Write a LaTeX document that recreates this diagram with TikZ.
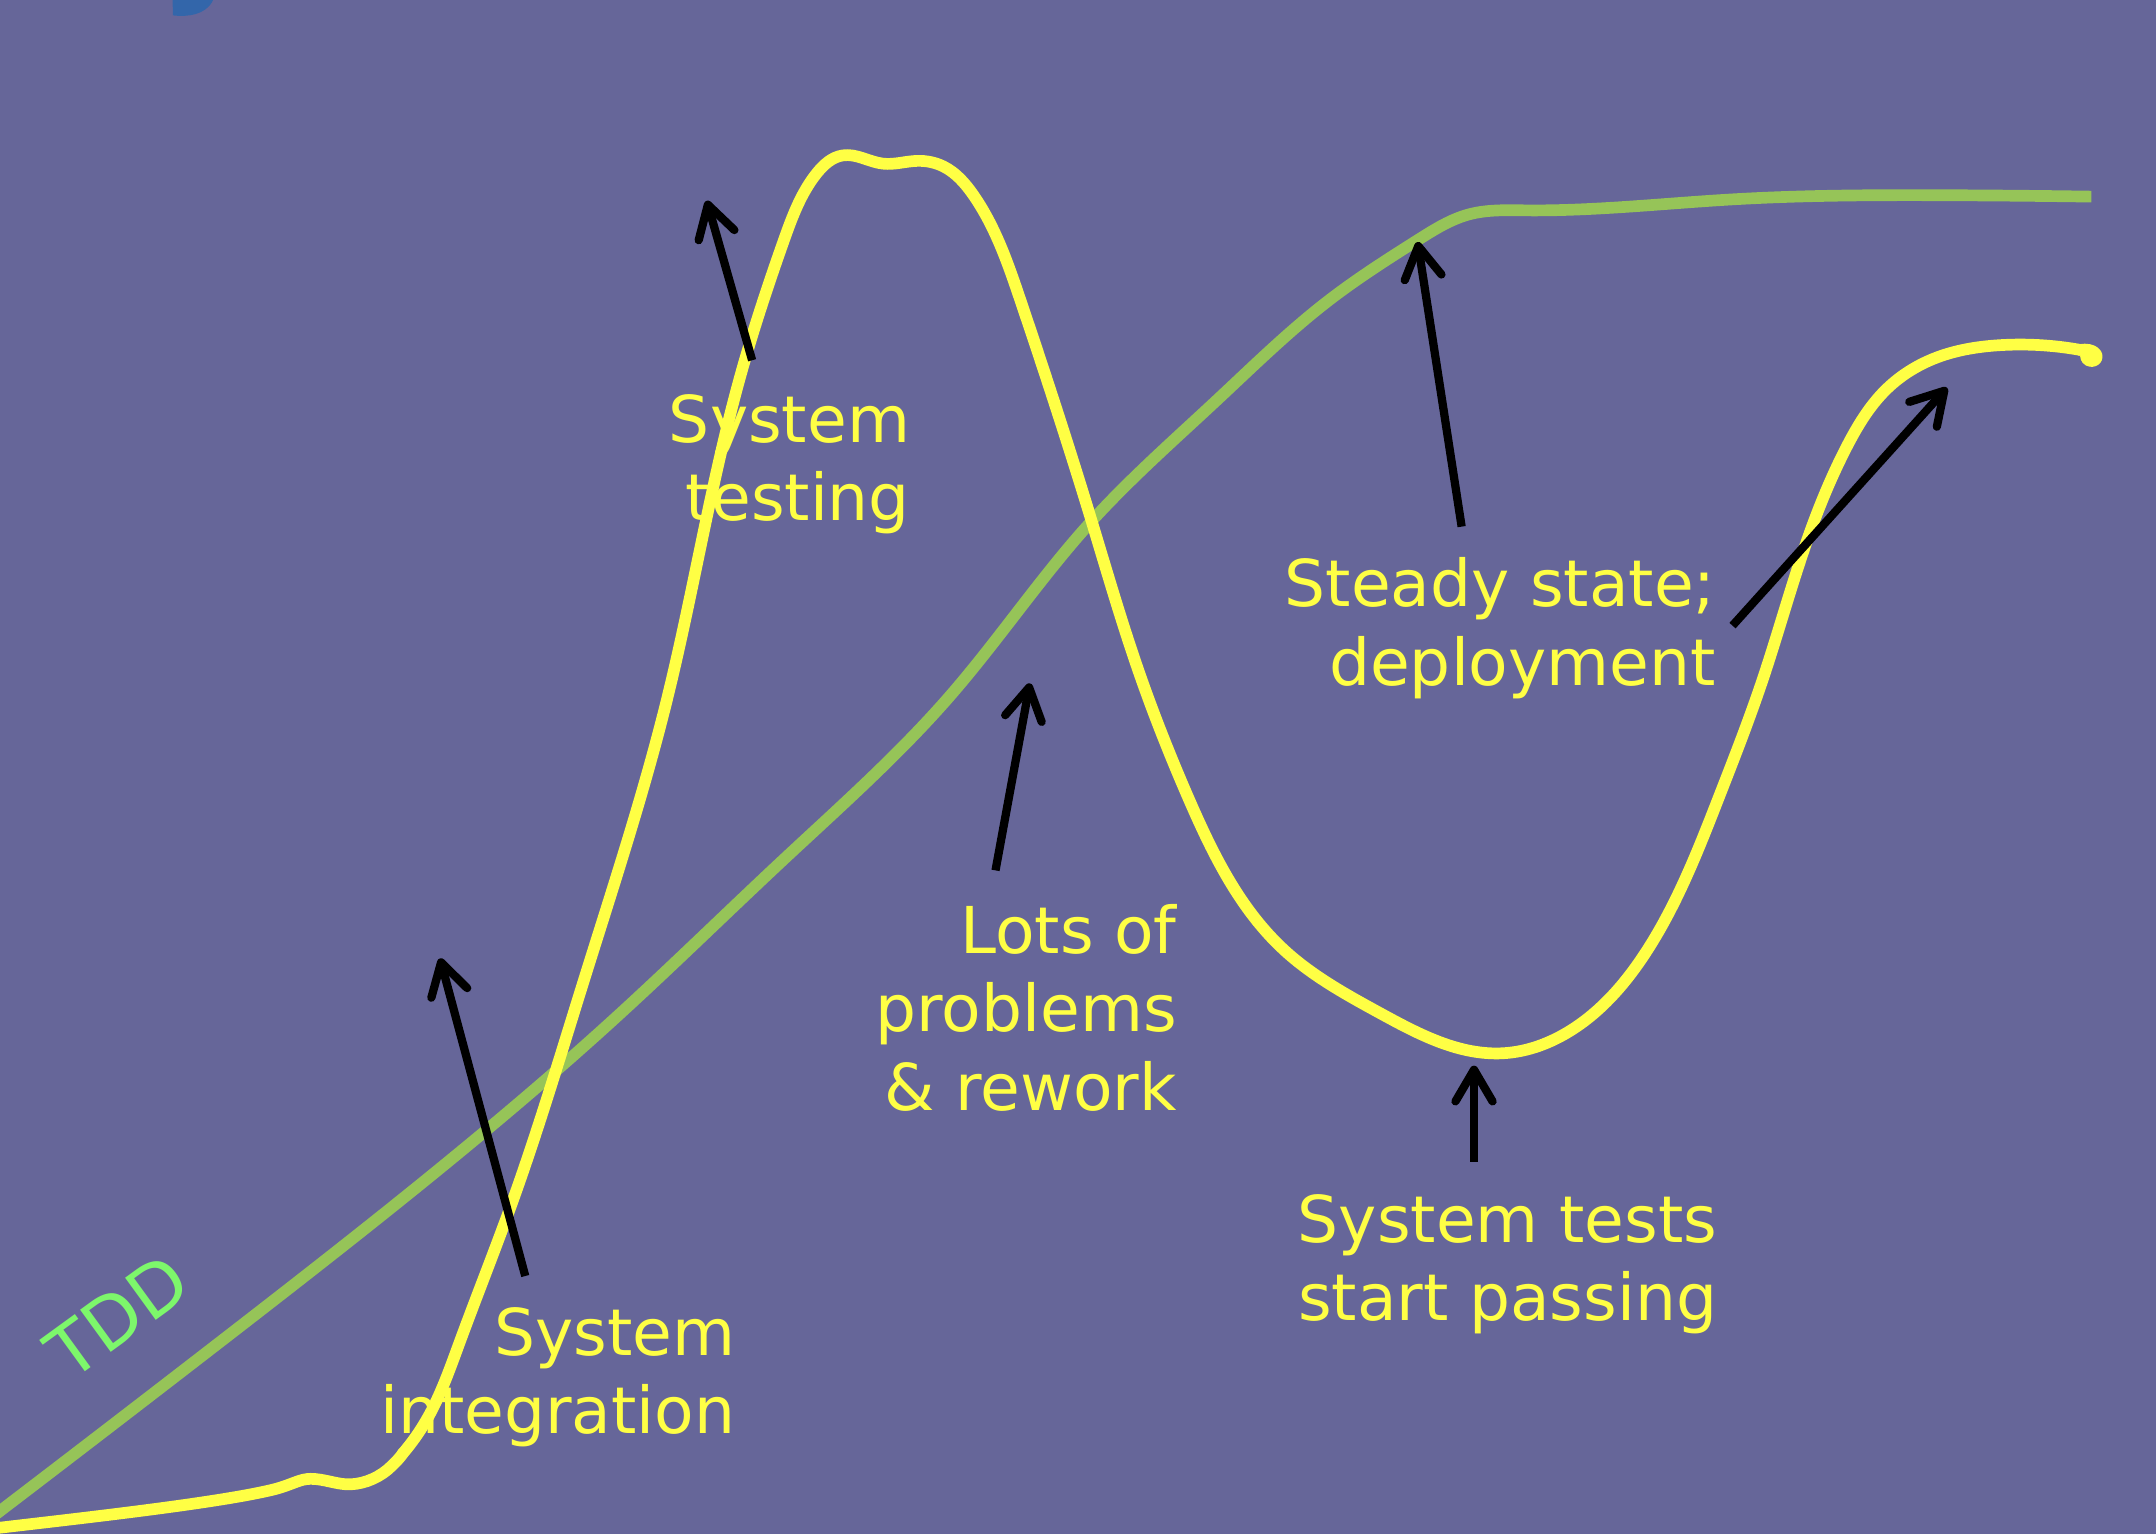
\documentclass[tikz,border=0pt]{standalone}
\usepackage{fontspec}
\setmainfont{DejaVu Sans}
\usetikzlibrary{arrows.meta,hobby}
\definecolor{bg}{HTML}{666699}
\definecolor{yel}{HTML}{FFFF44}
\definecolor{grn}{HTML}{96C458}
\definecolor{tddc}{HTML}{7DF76B}
\definecolor{blob}{HTML}{3366AA}
\begin{document}
\begin{tikzpicture}[x=1pt,y=-1pt,
  lbl/.style={text=yel, font=\fontsize{47}{57}\selectfont, align=right, inner sep=0pt, anchor=north east},
  ptr/.style={draw=black, line width=6pt, -{Straight Barb[length=23pt,width=27pt,round]}},
  ycurve/.style={draw=yel, line width=8.5pt, line cap=round, line join=round},
  gcurve/.style={draw=grn, line width=8.5pt}]
\useasboundingbox (0,0) rectangle (1568,1115.6);
\fill[bg] (0,0) rectangle (1568,1115.6);
% blue blob at top
\fill[blob] (125.5,0) -- (125.8,11.2) .. controls (136,12.5) and (150,11) .. (155,0) -- cycle;
% TDD curve
\draw[gcurve, use Hobby shortcut] (-4,1102) .. (160,976) .. (327,844) .. (449,739) .. (570,625)
  .. (691,506) .. (793,380) .. (885,291) .. (967,218) .. (1032,174) .. (1068,156)
  .. (1110,153) .. (1260,145) .. (1418,142) .. (1521,143);
% traditional curve: slow start
\draw[ycurve] (-4,1111.5) .. controls (60,1104) and (160,1093) .. (200,1083)
  .. controls (213,1079.5) and (218,1075.5) .. (226,1075.5)
  .. controls (236,1075.5) and (246,1080) .. (255,1079.5)
  .. controls (266,1079) and (277,1074) .. (285,1066)
  .. controls (289,1062) and (291,1060) .. (293,1057);
% traditional curve: the rest
\draw[ycurve, use Hobby shortcut] (293,1057) .. (310,1033) .. (334,977) .. (373,873) .. (424,715) .. (485,509)
  .. (538,275) .. (570,175) .. (594,126) .. (613,113) .. (642,119) .. (667,117)
  .. (686,121) .. (708,142) .. (742,218) .. (793,376) .. (827,485) .. (865,582)
  .. (934,691) .. (1004,737) .. (1093,766) .. (1143,749) .. (1198,691)
  .. (1250,580) .. (1282,494) .. (1316,388) .. (1343,325) .. (1371,284) .. (1406,261)
  .. (1455,251) .. (1513,254.5);
\draw[ycurve] (1513,254.5) .. controls (1522,253) and (1527,258) .. (1524,261.5)
  .. controls (1520,264.5) and (1515,261) .. (1518,256.5);
% labels
\node[lbl] (sint) at (535,950.5) {System\\integration};
\node[lbl] (stest) at (662,286.5) {System\\testing};
\node[lbl] (lots) at (856,657.5) {Lots of\\problems\\\& rework};
\node[lbl] (steady) at (1248,405.5) {Steady state;\\deployment};
\node[lbl] (spass) at (1249,868.5) {System tests\\start passing};
\node[text=tddc, font=\fontsize{52}{60}\selectfont, rotate=36, inner sep=0pt] (tdd) at (85.4,957.3) {TDD};
% pointer ends
\coordinate (a1t) at (382,928);  \coordinate (a1h) at (320,697);
\coordinate (a2t) at (547,262);  \coordinate (a2h) at (514,146);
\coordinate (a3t) at (724,633);  \coordinate (a3h) at (749,497);
\coordinate (a4t) at (1063,383); \coordinate (a4h) at (1031,176);
\coordinate (a5t) at (1260,455); \coordinate (a5h) at (1416,282);
\coordinate (a6t) at (1072,845); \coordinate (a6h) at (1072,775);
\draw[ptr] (a1t) -- (a1h);
\draw[ptr] (a2t) -- (a2h);
\draw[ptr] (a3t) -- (a3h);
\draw[ptr] (a4t) -- (a4h);
\draw[ptr] (a5t) -- (a5h);
\draw[ptr] (a6t) -- (a6h);
\end{tikzpicture}
\end{document}
